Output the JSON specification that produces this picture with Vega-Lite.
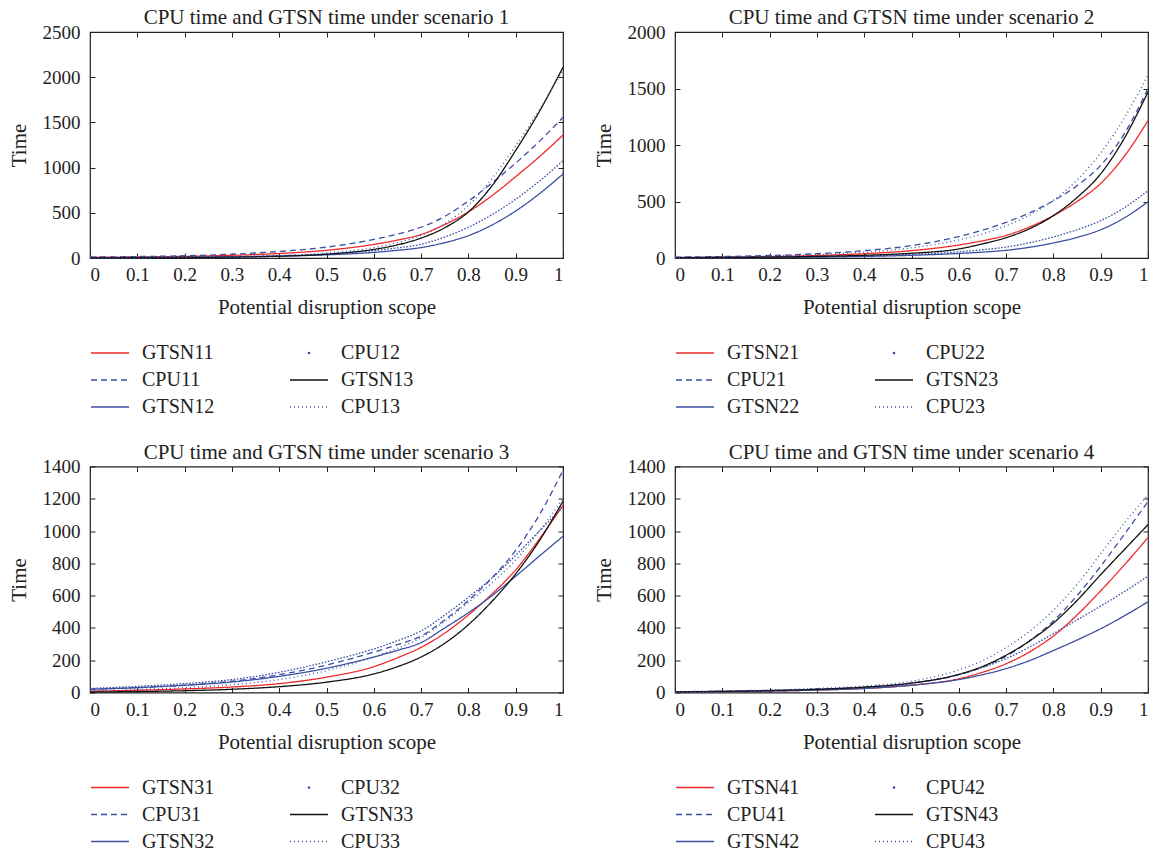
{
"$schema": "https://vega.github.io/schema/vega-lite/v6.json",
"background": "white",
"padding": {"left": 7, "top": 6, "right": 0, "bottom": 0},
"config": {
 "font": "Liberation Serif",
 "view": {"stroke": "#222", "strokeWidth": 1.2},
 "axis": {"labelFont": "Liberation Serif", "labelFontSize": 19, "titleFont": "Liberation Serif", "titleFontSize": 21, "titleFontWeight": "normal", "labelColor": "#222", "titleColor": "#222", "tickColor": "#222", "domain": false, "grid": false, "tickSize": -5},
 "axisBottom": {"labelPadding": 12.5, "titlePadding": 12},
 "axisLeft": {"labelPadding": 15, "titlePadding": 13},
 "axisTop": {"labelPadding": 0},
 "axisRight": {"labelPadding": 0},
 "title": {"font": "Liberation Serif", "fontSize": 21, "fontWeight": "normal", "color": "#222", "offset": -5},
 "legend": {"orient": "bottom", "columns": 2, "padding": 10, "labelFont": "Liberation Serif", "labelFontSize": 20, "labelColor": "#222", "symbolType": "stroke", "symbolSize": 1444, "symbolStrokeWidth": 1.3, "labelOffset": 22, "columnPadding": 72, "rowPadding": 7, "offset": 15}
},
"datasets": {"d": [
{"p":1,"s":"GTSN11","x":0,"y":8},{"p":1,"s":"GTSN11","x":0.1,"y":12},{"p":1,"s":"GTSN11","x":0.2,"y":18},{"p":1,"s":"GTSN11","x":0.3,"y":30},{"p":1,"s":"GTSN11","x":0.4,"y":50},{"p":1,"s":"GTSN11","x":0.5,"y":85},{"p":1,"s":"GTSN11","x":0.6,"y":150},{"p":1,"s":"GTSN11","x":0.65,"y":198},{"p":1,"s":"GTSN11","x":0.7,"y":260},{"p":1,"s":"GTSN11","x":0.75,"y":370},{"p":1,"s":"GTSN11","x":0.8,"y":510},{"p":1,"s":"GTSN11","x":0.85,"y":690},{"p":1,"s":"GTSN11","x":0.9,"y":900},{"p":1,"s":"GTSN11","x":0.95,"y":1120},{"p":1,"s":"GTSN11","x":1,"y":1360},
{"p":1,"s":"CPU11","x":0,"y":10},{"p":1,"s":"CPU11","x":0.1,"y":16},{"p":1,"s":"CPU11","x":0.2,"y":25},{"p":1,"s":"CPU11","x":0.3,"y":42},{"p":1,"s":"CPU11","x":0.4,"y":72},{"p":1,"s":"CPU11","x":0.5,"y":120},{"p":1,"s":"CPU11","x":0.6,"y":205},{"p":1,"s":"CPU11","x":0.65,"y":265},{"p":1,"s":"CPU11","x":0.7,"y":340},{"p":1,"s":"CPU11","x":0.75,"y":460},{"p":1,"s":"CPU11","x":0.8,"y":630},{"p":1,"s":"CPU11","x":0.85,"y":830},{"p":1,"s":"CPU11","x":0.9,"y":1050},{"p":1,"s":"CPU11","x":0.95,"y":1290},{"p":1,"s":"CPU11","x":1,"y":1556},
{"p":1,"s":"GTSN12","x":0,"y":3},{"p":1,"s":"GTSN12","x":0.1,"y":5},{"p":1,"s":"GTSN12","x":0.2,"y":8},{"p":1,"s":"GTSN12","x":0.3,"y":12},{"p":1,"s":"GTSN12","x":0.4,"y":20},{"p":1,"s":"GTSN12","x":0.5,"y":35},{"p":1,"s":"GTSN12","x":0.6,"y":62},{"p":1,"s":"GTSN12","x":0.65,"y":85},{"p":1,"s":"GTSN12","x":0.7,"y":115},{"p":1,"s":"GTSN12","x":0.75,"y":170},{"p":1,"s":"GTSN12","x":0.8,"y":247},{"p":1,"s":"GTSN12","x":0.85,"y":365},{"p":1,"s":"GTSN12","x":0.9,"y":520},{"p":1,"s":"GTSN12","x":0.95,"y":710},{"p":1,"s":"GTSN12","x":1,"y":929},
{"p":1,"s":"CPU12","x":0,"y":4},{"p":1,"s":"CPU12","x":0.1,"y":6},{"p":1,"s":"CPU12","x":0.2,"y":10},{"p":1,"s":"CPU12","x":0.3,"y":16},{"p":1,"s":"CPU12","x":0.4,"y":26},{"p":1,"s":"CPU12","x":0.5,"y":45},{"p":1,"s":"CPU12","x":0.6,"y":82},{"p":1,"s":"CPU12","x":0.65,"y":112},{"p":1,"s":"CPU12","x":0.7,"y":152},{"p":1,"s":"CPU12","x":0.75,"y":232},{"p":1,"s":"CPU12","x":0.8,"y":340},{"p":1,"s":"CPU12","x":0.85,"y":480},{"p":1,"s":"CPU12","x":0.9,"y":650},{"p":1,"s":"CPU12","x":0.95,"y":850},{"p":1,"s":"CPU12","x":1,"y":1076},
{"p":1,"s":"GTSN13","x":0,"y":2},{"p":1,"s":"GTSN13","x":0.1,"y":3},{"p":1,"s":"GTSN13","x":0.2,"y":6},{"p":1,"s":"GTSN13","x":0.3,"y":10},{"p":1,"s":"GTSN13","x":0.4,"y":20},{"p":1,"s":"GTSN13","x":0.5,"y":42},{"p":1,"s":"GTSN13","x":0.6,"y":95},{"p":1,"s":"GTSN13","x":0.65,"y":145},{"p":1,"s":"GTSN13","x":0.7,"y":220},{"p":1,"s":"GTSN13","x":0.75,"y":335},{"p":1,"s":"GTSN13","x":0.8,"y":510},{"p":1,"s":"GTSN13","x":0.85,"y":800},{"p":1,"s":"GTSN13","x":0.9,"y":1190},{"p":1,"s":"GTSN13","x":0.95,"y":1620},{"p":1,"s":"GTSN13","x":1,"y":2110},
{"p":1,"s":"CPU13","x":0,"y":3},{"p":1,"s":"CPU13","x":0.1,"y":5},{"p":1,"s":"CPU13","x":0.2,"y":8},{"p":1,"s":"CPU13","x":0.3,"y":14},{"p":1,"s":"CPU13","x":0.4,"y":27},{"p":1,"s":"CPU13","x":0.5,"y":55},{"p":1,"s":"CPU13","x":0.6,"y":115},{"p":1,"s":"CPU13","x":0.65,"y":170},{"p":1,"s":"CPU13","x":0.7,"y":250},{"p":1,"s":"CPU13","x":0.75,"y":380},{"p":1,"s":"CPU13","x":0.8,"y":580},{"p":1,"s":"CPU13","x":0.85,"y":880},{"p":1,"s":"CPU13","x":0.9,"y":1240},{"p":1,"s":"CPU13","x":0.95,"y":1640},{"p":1,"s":"CPU13","x":1,"y":2080},
{"p":2,"s":"GTSN21","x":0,"y":5},{"p":2,"s":"GTSN21","x":0.1,"y":8},{"p":2,"s":"GTSN21","x":0.2,"y":13},{"p":2,"s":"GTSN21","x":0.3,"y":22},{"p":2,"s":"GTSN21","x":0.4,"y":38},{"p":2,"s":"GTSN21","x":0.5,"y":65},{"p":2,"s":"GTSN21","x":0.6,"y":115},{"p":2,"s":"GTSN21","x":0.65,"y":152},{"p":2,"s":"GTSN21","x":0.7,"y":200},{"p":2,"s":"GTSN21","x":0.75,"y":275},{"p":2,"s":"GTSN21","x":0.8,"y":375},{"p":2,"s":"GTSN21","x":0.85,"y":500},{"p":2,"s":"GTSN21","x":0.9,"y":660},{"p":2,"s":"GTSN21","x":0.95,"y":900},{"p":2,"s":"GTSN21","x":1,"y":1215},
{"p":2,"s":"CPU21","x":0,"y":8},{"p":2,"s":"CPU21","x":0.1,"y":13},{"p":2,"s":"CPU21","x":0.2,"y":22},{"p":2,"s":"CPU21","x":0.3,"y":38},{"p":2,"s":"CPU21","x":0.4,"y":65},{"p":2,"s":"CPU21","x":0.5,"y":110},{"p":2,"s":"CPU21","x":0.6,"y":190},{"p":2,"s":"CPU21","x":0.65,"y":246},{"p":2,"s":"CPU21","x":0.7,"y":316},{"p":2,"s":"CPU21","x":0.75,"y":400},{"p":2,"s":"CPU21","x":0.8,"y":507},{"p":2,"s":"CPU21","x":0.85,"y":640},{"p":2,"s":"CPU21","x":0.9,"y":820},{"p":2,"s":"CPU21","x":0.95,"y":1100},{"p":2,"s":"CPU21","x":1,"y":1500},
{"p":2,"s":"GTSN22","x":0,"y":2},{"p":2,"s":"GTSN22","x":0.1,"y":3},{"p":2,"s":"GTSN22","x":0.2,"y":5},{"p":2,"s":"GTSN22","x":0.3,"y":8},{"p":2,"s":"GTSN22","x":0.4,"y":14},{"p":2,"s":"GTSN22","x":0.5,"y":24},{"p":2,"s":"GTSN22","x":0.6,"y":40},{"p":2,"s":"GTSN22","x":0.65,"y":52},{"p":2,"s":"GTSN22","x":0.7,"y":68},{"p":2,"s":"GTSN22","x":0.75,"y":95},{"p":2,"s":"GTSN22","x":0.8,"y":133},{"p":2,"s":"GTSN22","x":0.85,"y":182},{"p":2,"s":"GTSN22","x":0.9,"y":250},{"p":2,"s":"GTSN22","x":0.95,"y":355},{"p":2,"s":"GTSN22","x":1,"y":498},
{"p":2,"s":"CPU22","x":0,"y":3},{"p":2,"s":"CPU22","x":0.1,"y":4},{"p":2,"s":"CPU22","x":0.2,"y":7},{"p":2,"s":"CPU22","x":0.3,"y":11},{"p":2,"s":"CPU22","x":0.4,"y":19},{"p":2,"s":"CPU22","x":0.5,"y":32},{"p":2,"s":"CPU22","x":0.6,"y":55},{"p":2,"s":"CPU22","x":0.65,"y":73},{"p":2,"s":"CPU22","x":0.7,"y":97},{"p":2,"s":"CPU22","x":0.75,"y":135},{"p":2,"s":"CPU22","x":0.8,"y":186},{"p":2,"s":"CPU22","x":0.85,"y":250},{"p":2,"s":"CPU22","x":0.9,"y":330},{"p":2,"s":"CPU22","x":0.95,"y":445},{"p":2,"s":"CPU22","x":1,"y":596},
{"p":2,"s":"GTSN23","x":0,"y":3},{"p":2,"s":"GTSN23","x":0.1,"y":5},{"p":2,"s":"GTSN23","x":0.2,"y":8},{"p":2,"s":"GTSN23","x":0.3,"y":14},{"p":2,"s":"GTSN23","x":0.4,"y":24},{"p":2,"s":"GTSN23","x":0.5,"y":42},{"p":2,"s":"GTSN23","x":0.6,"y":80},{"p":2,"s":"GTSN23","x":0.65,"y":125},{"p":2,"s":"GTSN23","x":0.7,"y":180},{"p":2,"s":"GTSN23","x":0.75,"y":260},{"p":2,"s":"GTSN23","x":0.8,"y":375},{"p":2,"s":"GTSN23","x":0.85,"y":535},{"p":2,"s":"GTSN23","x":0.9,"y":745},{"p":2,"s":"GTSN23","x":0.95,"y":1060},{"p":2,"s":"GTSN23","x":1,"y":1470},
{"p":2,"s":"CPU23","x":0,"y":6},{"p":2,"s":"CPU23","x":0.1,"y":10},{"p":2,"s":"CPU23","x":0.2,"y":17},{"p":2,"s":"CPU23","x":0.3,"y":30},{"p":2,"s":"CPU23","x":0.4,"y":52},{"p":2,"s":"CPU23","x":0.5,"y":90},{"p":2,"s":"CPU23","x":0.6,"y":160},{"p":2,"s":"CPU23","x":0.65,"y":214},{"p":2,"s":"CPU23","x":0.7,"y":285},{"p":2,"s":"CPU23","x":0.75,"y":380},{"p":2,"s":"CPU23","x":0.8,"y":510},{"p":2,"s":"CPU23","x":0.85,"y":690},{"p":2,"s":"CPU23","x":0.9,"y":930},{"p":2,"s":"CPU23","x":0.95,"y":1240},{"p":2,"s":"CPU23","x":1,"y":1620},
{"p":3,"s":"GTSN31","x":0,"y":8},{"p":3,"s":"GTSN31","x":0.1,"y":14},{"p":3,"s":"GTSN31","x":0.2,"y":22},{"p":3,"s":"GTSN31","x":0.3,"y":34},{"p":3,"s":"GTSN31","x":0.4,"y":55},{"p":3,"s":"GTSN31","x":0.5,"y":95},{"p":3,"s":"GTSN31","x":0.6,"y":160},{"p":3,"s":"GTSN31","x":0.65,"y":215},{"p":3,"s":"GTSN31","x":0.7,"y":280},{"p":3,"s":"GTSN31","x":0.75,"y":368},{"p":3,"s":"GTSN31","x":0.8,"y":480},{"p":3,"s":"GTSN31","x":0.85,"y":610},{"p":3,"s":"GTSN31","x":0.9,"y":760},{"p":3,"s":"GTSN31","x":0.95,"y":950},{"p":3,"s":"GTSN31","x":1,"y":1160},
{"p":3,"s":"CPU31","x":0,"y":20},{"p":3,"s":"CPU31","x":0.1,"y":30},{"p":3,"s":"CPU31","x":0.2,"y":45},{"p":3,"s":"CPU31","x":0.3,"y":70},{"p":3,"s":"CPU31","x":0.4,"y":110},{"p":3,"s":"CPU31","x":0.5,"y":170},{"p":3,"s":"CPU31","x":0.6,"y":250},{"p":3,"s":"CPU31","x":0.65,"y":296},{"p":3,"s":"CPU31","x":0.7,"y":350},{"p":3,"s":"CPU31","x":0.75,"y":450},{"p":3,"s":"CPU31","x":0.8,"y":570},{"p":3,"s":"CPU31","x":0.85,"y":710},{"p":3,"s":"CPU31","x":0.9,"y":880},{"p":3,"s":"CPU31","x":0.95,"y":1100},{"p":3,"s":"CPU31","x":1,"y":1376},
{"p":3,"s":"GTSN32","x":0,"y":20},{"p":3,"s":"GTSN32","x":0.1,"y":30},{"p":3,"s":"GTSN32","x":0.2,"y":45},{"p":3,"s":"GTSN32","x":0.3,"y":65},{"p":3,"s":"GTSN32","x":0.4,"y":100},{"p":3,"s":"GTSN32","x":0.5,"y":150},{"p":3,"s":"GTSN32","x":0.6,"y":220},{"p":3,"s":"GTSN32","x":0.65,"y":261},{"p":3,"s":"GTSN32","x":0.7,"y":309},{"p":3,"s":"GTSN32","x":0.75,"y":400},{"p":3,"s":"GTSN32","x":0.8,"y":494},{"p":3,"s":"GTSN32","x":0.85,"y":600},{"p":3,"s":"GTSN32","x":0.9,"y":720},{"p":3,"s":"GTSN32","x":0.95,"y":845},{"p":3,"s":"GTSN32","x":1,"y":968},
{"p":3,"s":"CPU32","x":0,"y":25},{"p":3,"s":"CPU32","x":0.1,"y":38},{"p":3,"s":"CPU32","x":0.2,"y":55},{"p":3,"s":"CPU32","x":0.3,"y":80},{"p":3,"s":"CPU32","x":0.4,"y":125},{"p":3,"s":"CPU32","x":0.5,"y":190},{"p":3,"s":"CPU32","x":0.6,"y":270},{"p":3,"s":"CPU32","x":0.65,"y":321},{"p":3,"s":"CPU32","x":0.7,"y":381},{"p":3,"s":"CPU32","x":0.75,"y":480},{"p":3,"s":"CPU32","x":0.8,"y":590},{"p":3,"s":"CPU32","x":0.85,"y":710},{"p":3,"s":"CPU32","x":0.9,"y":850},{"p":3,"s":"CPU32","x":0.95,"y":1000},{"p":3,"s":"CPU32","x":1,"y":1150},
{"p":3,"s":"GTSN33","x":0,"y":3},{"p":3,"s":"GTSN33","x":0.1,"y":6},{"p":3,"s":"GTSN33","x":0.2,"y":11},{"p":3,"s":"GTSN33","x":0.3,"y":20},{"p":3,"s":"GTSN33","x":0.4,"y":36},{"p":3,"s":"GTSN33","x":0.5,"y":64},{"p":3,"s":"GTSN33","x":0.6,"y":115},{"p":3,"s":"GTSN33","x":0.65,"y":160},{"p":3,"s":"GTSN33","x":0.7,"y":220},{"p":3,"s":"GTSN33","x":0.75,"y":305},{"p":3,"s":"GTSN33","x":0.8,"y":420},{"p":3,"s":"GTSN33","x":0.85,"y":565},{"p":3,"s":"GTSN33","x":0.9,"y":735},{"p":3,"s":"GTSN33","x":0.95,"y":940},{"p":3,"s":"GTSN33","x":1,"y":1185},
{"p":3,"s":"CPU33","x":0,"y":10},{"p":3,"s":"CPU33","x":0.1,"y":18},{"p":3,"s":"CPU33","x":0.2,"y":30},{"p":3,"s":"CPU33","x":0.3,"y":48},{"p":3,"s":"CPU33","x":0.4,"y":80},{"p":3,"s":"CPU33","x":0.5,"y":135},{"p":3,"s":"CPU33","x":0.6,"y":220},{"p":3,"s":"CPU33","x":0.65,"y":274},{"p":3,"s":"CPU33","x":0.7,"y":340},{"p":3,"s":"CPU33","x":0.75,"y":440},{"p":3,"s":"CPU33","x":0.8,"y":558},{"p":3,"s":"CPU33","x":0.85,"y":680},{"p":3,"s":"CPU33","x":0.9,"y":820},{"p":3,"s":"CPU33","x":0.95,"y":1000},{"p":3,"s":"CPU33","x":1,"y":1200},
{"p":4,"s":"GTSN41","x":0,"y":3},{"p":4,"s":"GTSN41","x":0.1,"y":5},{"p":4,"s":"GTSN41","x":0.2,"y":9},{"p":4,"s":"GTSN41","x":0.3,"y":15},{"p":4,"s":"GTSN41","x":0.4,"y":25},{"p":4,"s":"GTSN41","x":0.5,"y":45},{"p":4,"s":"GTSN41","x":0.6,"y":85},{"p":4,"s":"GTSN41","x":0.65,"y":125},{"p":4,"s":"GTSN41","x":0.7,"y":178},{"p":4,"s":"GTSN41","x":0.75,"y":252},{"p":4,"s":"GTSN41","x":0.8,"y":350},{"p":4,"s":"GTSN41","x":0.85,"y":480},{"p":4,"s":"GTSN41","x":0.9,"y":630},{"p":4,"s":"GTSN41","x":0.95,"y":790},{"p":4,"s":"GTSN41","x":1,"y":960},
{"p":4,"s":"CPU41","x":0,"y":4},{"p":4,"s":"CPU41","x":0.1,"y":7},{"p":4,"s":"CPU41","x":0.2,"y":12},{"p":4,"s":"CPU41","x":0.3,"y":20},{"p":4,"s":"CPU41","x":0.4,"y":33},{"p":4,"s":"CPU41","x":0.5,"y":58},{"p":4,"s":"CPU41","x":0.6,"y":110},{"p":4,"s":"CPU41","x":0.65,"y":157},{"p":4,"s":"CPU41","x":0.7,"y":225},{"p":4,"s":"CPU41","x":0.75,"y":320},{"p":4,"s":"CPU41","x":0.8,"y":443},{"p":4,"s":"CPU41","x":0.85,"y":600},{"p":4,"s":"CPU41","x":0.9,"y":782},{"p":4,"s":"CPU41","x":0.95,"y":980},{"p":4,"s":"CPU41","x":1,"y":1183},
{"p":4,"s":"GTSN42","x":0,"y":3},{"p":4,"s":"GTSN42","x":0.1,"y":5},{"p":4,"s":"GTSN42","x":0.2,"y":9},{"p":4,"s":"GTSN42","x":0.3,"y":15},{"p":4,"s":"GTSN42","x":0.4,"y":25},{"p":4,"s":"GTSN42","x":0.5,"y":45},{"p":4,"s":"GTSN42","x":0.6,"y":80},{"p":4,"s":"GTSN42","x":0.65,"y":110},{"p":4,"s":"GTSN42","x":0.7,"y":148},{"p":4,"s":"GTSN42","x":0.75,"y":198},{"p":4,"s":"GTSN42","x":0.8,"y":260},{"p":4,"s":"GTSN42","x":0.85,"y":325},{"p":4,"s":"GTSN42","x":0.9,"y":395},{"p":4,"s":"GTSN42","x":0.95,"y":475},{"p":4,"s":"GTSN42","x":1,"y":562},
{"p":4,"s":"CPU42","x":0,"y":5},{"p":4,"s":"CPU42","x":0.1,"y":8},{"p":4,"s":"CPU42","x":0.2,"y":13},{"p":4,"s":"CPU42","x":0.3,"y":20},{"p":4,"s":"CPU42","x":0.4,"y":32},{"p":4,"s":"CPU42","x":0.5,"y":58},{"p":4,"s":"CPU42","x":0.6,"y":112},{"p":4,"s":"CPU42","x":0.65,"y":155},{"p":4,"s":"CPU42","x":0.7,"y":210},{"p":4,"s":"CPU42","x":0.75,"y":282},{"p":4,"s":"CPU42","x":0.8,"y":365},{"p":4,"s":"CPU42","x":0.85,"y":450},{"p":4,"s":"CPU42","x":0.9,"y":535},{"p":4,"s":"CPU42","x":0.95,"y":625},{"p":4,"s":"CPU42","x":1,"y":720},
{"p":4,"s":"GTSN43","x":0,"y":4},{"p":4,"s":"GTSN43","x":0.1,"y":7},{"p":4,"s":"GTSN43","x":0.2,"y":12},{"p":4,"s":"GTSN43","x":0.3,"y":20},{"p":4,"s":"GTSN43","x":0.4,"y":33},{"p":4,"s":"GTSN43","x":0.5,"y":58},{"p":4,"s":"GTSN43","x":0.6,"y":112},{"p":4,"s":"GTSN43","x":0.65,"y":161},{"p":4,"s":"GTSN43","x":0.7,"y":231},{"p":4,"s":"GTSN43","x":0.75,"y":320},{"p":4,"s":"GTSN43","x":0.8,"y":430},{"p":4,"s":"GTSN43","x":0.85,"y":570},{"p":4,"s":"GTSN43","x":0.9,"y":730},{"p":4,"s":"GTSN43","x":0.95,"y":885},{"p":4,"s":"GTSN43","x":1,"y":1040},
{"p":4,"s":"CPU43","x":0,"y":5},{"p":4,"s":"CPU43","x":0.1,"y":9},{"p":4,"s":"CPU43","x":0.2,"y":15},{"p":4,"s":"CPU43","x":0.3,"y":25},{"p":4,"s":"CPU43","x":0.4,"y":40},{"p":4,"s":"CPU43","x":0.5,"y":70},{"p":4,"s":"CPU43","x":0.6,"y":140},{"p":4,"s":"CPU43","x":0.65,"y":197},{"p":4,"s":"CPU43","x":0.7,"y":278},{"p":4,"s":"CPU43","x":0.75,"y":380},{"p":4,"s":"CPU43","x":0.8,"y":510},{"p":4,"s":"CPU43","x":0.85,"y":670},{"p":4,"s":"CPU43","x":0.9,"y":860},{"p":4,"s":"CPU43","x":0.95,"y":1050},{"p":4,"s":"CPU43","x":1,"y":1225}
]},
"resolve": {"scale": {"color": "independent", "strokeDash": "independent", "x": "independent", "y": "independent"}, "legend": {"color": "independent", "strokeDash": "independent"}},
"spacing": 12.5,
"vconcat": [
 {"hconcat": [
  {"width": 473, "height": 226, "title": "CPU time and GTSN time under scenario 1", "data": {"name": "d"}, "transform": [{"filter": "datum.p == 1"}],
   "resolve": {"axis": {"x": "independent", "y": "independent"}},
   "layer": [
    {"mark": {"type": "line", "interpolate": "monotone", "strokeWidth": 1.3},
     "encoding": {
      "x": {"field": "x", "type": "quantitative", "title": "Potential disruption scope", "scale": {"domain": [0, 1], "nice": false}, "axis": {"orient": "bottom", "values": [0,0.1,0.2,0.3,0.4,0.5,0.6,0.7,0.8,0.9,1], "format": "~g"}},
      "y": {"field": "y", "type": "quantitative", "title": "Time", "scale": {"domain": [0, 2500], "nice": false}, "axis": {"orient": "left", "values": [0,500,1000,1500,2000,2500], "format": "d"}},
      "color": {"field": "s", "type": "nominal", "legend": {"title": null, "encode": {"symbols": {"update": {"shape": {"signal": "test(regexp('^CPU.2$'), datum.value) ? 'M-0.07,0a0.07,0.07 0 1,0 0.14,0a0.07,0.07 0 1,0 -0.14,0Z' : 'stroke'"}, "fill": {"signal": "test(regexp('^CPU.2$'), datum.value) ? '#3b50a3' : 'transparent'"}, "strokeWidth": {"signal": "test(regexp('^CPU.2$'), datum.value) ? 0 : 1.3"}}}}}, "scale": {"domain": ["GTSN11","CPU12","CPU11","GTSN13","GTSN12","CPU13"], "range": ["#f02828","#3b50a3","#3b50a3","#111111","#3b50a3","#3b50a3"]}},
      "strokeDash": {"field": "s", "type": "nominal", "legend": {"title": null, "encode": {"symbols": {"update": {"shape": {"signal": "test(regexp('^CPU.2$'), datum.value) ? 'M-0.07,0a0.07,0.07 0 1,0 0.14,0a0.07,0.07 0 1,0 -0.14,0Z' : 'stroke'"}, "fill": {"signal": "test(regexp('^CPU.2$'), datum.value) ? '#3b50a3' : 'transparent'"}, "strokeWidth": {"signal": "test(regexp('^CPU.2$'), datum.value) ? 0 : 1.3"}}}}}, "scale": {"domain": ["GTSN11","CPU12","CPU11","GTSN13","GTSN12","CPU13"], "range": [[1,0],[1.6,1.6],[6,4],[1,0],[1,0],[1,3]]}},
      "strokeWidth": {"condition": {"test": "test(regexp('^CPU.2$'), datum.s)", "value": 2.4}, "value": 1.3}
     }},
    {"mark": {"type": "line", "opacity": 0},
     "encoding": {
      "x": {"field": "x", "type": "quantitative", "axis": {"orient": "top", "labels": false, "title": null, "values": [0,0.1,0.2,0.3,0.4,0.5,0.6,0.7,0.8,0.9,1]}},
      "y": {"field": "y", "type": "quantitative", "axis": {"orient": "right", "labels": false, "title": null, "values": [0,500,1000,1500,2000,2500]}},
      "detail": {"field": "s"}
     }}
   ]},
  {"width": 473, "height": 226, "title": "CPU time and GTSN time under scenario 2", "data": {"name": "d"}, "transform": [{"filter": "datum.p == 2"}],
   "resolve": {"axis": {"x": "independent", "y": "independent"}},
   "layer": [
    {"mark": {"type": "line", "interpolate": "monotone", "strokeWidth": 1.3},
     "encoding": {
      "x": {"field": "x", "type": "quantitative", "title": "Potential disruption scope", "scale": {"domain": [0, 1], "nice": false}, "axis": {"orient": "bottom", "values": [0,0.1,0.2,0.3,0.4,0.5,0.6,0.7,0.8,0.9,1], "format": "~g"}},
      "y": {"field": "y", "type": "quantitative", "title": "Time", "scale": {"domain": [0, 2000], "nice": false}, "axis": {"orient": "left", "values": [0,500,1000,1500,2000], "format": "d"}},
      "color": {"field": "s", "type": "nominal", "legend": {"title": null, "encode": {"symbols": {"update": {"shape": {"signal": "test(regexp('^CPU.2$'), datum.value) ? 'M-0.07,0a0.07,0.07 0 1,0 0.14,0a0.07,0.07 0 1,0 -0.14,0Z' : 'stroke'"}, "fill": {"signal": "test(regexp('^CPU.2$'), datum.value) ? '#3b50a3' : 'transparent'"}, "strokeWidth": {"signal": "test(regexp('^CPU.2$'), datum.value) ? 0 : 1.3"}}}}}, "scale": {"domain": ["GTSN21","CPU22","CPU21","GTSN23","GTSN22","CPU23"], "range": ["#f02828","#3b50a3","#3b50a3","#111111","#3b50a3","#3b50a3"]}},
      "strokeDash": {"field": "s", "type": "nominal", "legend": {"title": null, "encode": {"symbols": {"update": {"shape": {"signal": "test(regexp('^CPU.2$'), datum.value) ? 'M-0.07,0a0.07,0.07 0 1,0 0.14,0a0.07,0.07 0 1,0 -0.14,0Z' : 'stroke'"}, "fill": {"signal": "test(regexp('^CPU.2$'), datum.value) ? '#3b50a3' : 'transparent'"}, "strokeWidth": {"signal": "test(regexp('^CPU.2$'), datum.value) ? 0 : 1.3"}}}}}, "scale": {"domain": ["GTSN21","CPU22","CPU21","GTSN23","GTSN22","CPU23"], "range": [[1,0],[1.6,1.6],[6,4],[1,0],[1,0],[1,3]]}},
      "strokeWidth": {"condition": {"test": "test(regexp('^CPU.2$'), datum.s)", "value": 2.4}, "value": 1.3}
     }},
    {"mark": {"type": "line", "opacity": 0},
     "encoding": {
      "x": {"field": "x", "type": "quantitative", "axis": {"orient": "top", "labels": false, "title": null, "values": [0,0.1,0.2,0.3,0.4,0.5,0.6,0.7,0.8,0.9,1]}},
      "y": {"field": "y", "type": "quantitative", "axis": {"orient": "right", "labels": false, "title": null, "values": [0,500,1000,1500,2000]}},
      "detail": {"field": "s"}
     }}
   ]}
 ], "spacing": 25, "resolve": {"scale": {"color": "independent", "strokeDash": "independent", "x": "independent", "y": "independent"}, "legend": {"color": "independent", "strokeDash": "independent"}}},
 {"hconcat": [
  {"width": 473, "height": 226, "title": "CPU time and GTSN time under scenario 3", "data": {"name": "d"}, "transform": [{"filter": "datum.p == 3"}],
   "resolve": {"axis": {"x": "independent", "y": "independent"}},
   "layer": [
    {"mark": {"type": "line", "interpolate": "monotone", "strokeWidth": 1.3},
     "encoding": {
      "x": {"field": "x", "type": "quantitative", "title": "Potential disruption scope", "scale": {"domain": [0, 1], "nice": false}, "axis": {"orient": "bottom", "values": [0,0.1,0.2,0.3,0.4,0.5,0.6,0.7,0.8,0.9,1], "format": "~g"}},
      "y": {"field": "y", "type": "quantitative", "title": "Time", "scale": {"domain": [0, 1400], "nice": false}, "axis": {"orient": "left", "values": [0,200,400,600,800,1000,1200,1400], "format": "d"}},
      "color": {"field": "s", "type": "nominal", "legend": {"title": null, "encode": {"symbols": {"update": {"shape": {"signal": "test(regexp('^CPU.2$'), datum.value) ? 'M-0.07,0a0.07,0.07 0 1,0 0.14,0a0.07,0.07 0 1,0 -0.14,0Z' : 'stroke'"}, "fill": {"signal": "test(regexp('^CPU.2$'), datum.value) ? '#3b50a3' : 'transparent'"}, "strokeWidth": {"signal": "test(regexp('^CPU.2$'), datum.value) ? 0 : 1.3"}}}}}, "scale": {"domain": ["GTSN31","CPU32","CPU31","GTSN33","GTSN32","CPU33"], "range": ["#f02828","#3b50a3","#3b50a3","#111111","#3b50a3","#3b50a3"]}},
      "strokeDash": {"field": "s", "type": "nominal", "legend": {"title": null, "encode": {"symbols": {"update": {"shape": {"signal": "test(regexp('^CPU.2$'), datum.value) ? 'M-0.07,0a0.07,0.07 0 1,0 0.14,0a0.07,0.07 0 1,0 -0.14,0Z' : 'stroke'"}, "fill": {"signal": "test(regexp('^CPU.2$'), datum.value) ? '#3b50a3' : 'transparent'"}, "strokeWidth": {"signal": "test(regexp('^CPU.2$'), datum.value) ? 0 : 1.3"}}}}}, "scale": {"domain": ["GTSN31","CPU32","CPU31","GTSN33","GTSN32","CPU33"], "range": [[1,0],[1.6,1.6],[6,4],[1,0],[1,0],[1,3]]}},
      "strokeWidth": {"condition": {"test": "test(regexp('^CPU.2$'), datum.s)", "value": 2.4}, "value": 1.3}
     }},
    {"mark": {"type": "line", "opacity": 0},
     "encoding": {
      "x": {"field": "x", "type": "quantitative", "axis": {"orient": "top", "labels": false, "title": null, "values": [0,0.1,0.2,0.3,0.4,0.5,0.6,0.7,0.8,0.9,1]}},
      "y": {"field": "y", "type": "quantitative", "axis": {"orient": "right", "labels": false, "title": null, "values": [0,200,400,600,800,1000,1200,1400]}},
      "detail": {"field": "s"}
     }}
   ]},
  {"width": 473, "height": 226, "title": "CPU time and GTSN time under scenario 4", "data": {"name": "d"}, "transform": [{"filter": "datum.p == 4"}],
   "resolve": {"axis": {"x": "independent", "y": "independent"}},
   "layer": [
    {"mark": {"type": "line", "interpolate": "monotone", "strokeWidth": 1.3},
     "encoding": {
      "x": {"field": "x", "type": "quantitative", "title": "Potential disruption scope", "scale": {"domain": [0, 1], "nice": false}, "axis": {"orient": "bottom", "values": [0,0.1,0.2,0.3,0.4,0.5,0.6,0.7,0.8,0.9,1], "format": "~g"}},
      "y": {"field": "y", "type": "quantitative", "title": "Time", "scale": {"domain": [0, 1400], "nice": false}, "axis": {"orient": "left", "values": [0,200,400,600,800,1000,1200,1400], "format": "d"}},
      "color": {"field": "s", "type": "nominal", "legend": {"title": null, "encode": {"symbols": {"update": {"shape": {"signal": "test(regexp('^CPU.2$'), datum.value) ? 'M-0.07,0a0.07,0.07 0 1,0 0.14,0a0.07,0.07 0 1,0 -0.14,0Z' : 'stroke'"}, "fill": {"signal": "test(regexp('^CPU.2$'), datum.value) ? '#3b50a3' : 'transparent'"}, "strokeWidth": {"signal": "test(regexp('^CPU.2$'), datum.value) ? 0 : 1.3"}}}}}, "scale": {"domain": ["GTSN41","CPU42","CPU41","GTSN43","GTSN42","CPU43"], "range": ["#f02828","#3b50a3","#3b50a3","#111111","#3b50a3","#3b50a3"]}},
      "strokeDash": {"field": "s", "type": "nominal", "legend": {"title": null, "encode": {"symbols": {"update": {"shape": {"signal": "test(regexp('^CPU.2$'), datum.value) ? 'M-0.07,0a0.07,0.07 0 1,0 0.14,0a0.07,0.07 0 1,0 -0.14,0Z' : 'stroke'"}, "fill": {"signal": "test(regexp('^CPU.2$'), datum.value) ? '#3b50a3' : 'transparent'"}, "strokeWidth": {"signal": "test(regexp('^CPU.2$'), datum.value) ? 0 : 1.3"}}}}}, "scale": {"domain": ["GTSN41","CPU42","CPU41","GTSN43","GTSN42","CPU43"], "range": [[1,0],[1.6,1.6],[6,4],[1,0],[1,0],[1,3]]}},
      "strokeWidth": {"condition": {"test": "test(regexp('^CPU.2$'), datum.s)", "value": 2.4}, "value": 1.3}
     }},
    {"mark": {"type": "line", "opacity": 0},
     "encoding": {
      "x": {"field": "x", "type": "quantitative", "axis": {"orient": "top", "labels": false, "title": null, "values": [0,0.1,0.2,0.3,0.4,0.5,0.6,0.7,0.8,0.9,1]}},
      "y": {"field": "y", "type": "quantitative", "axis": {"orient": "right", "labels": false, "title": null, "values": [0,200,400,600,800,1000,1200,1400]}},
      "detail": {"field": "s"}
     }}
   ]}
 ], "spacing": 25, "resolve": {"scale": {"color": "independent", "strokeDash": "independent", "x": "independent", "y": "independent"}, "legend": {"color": "independent", "strokeDash": "independent"}}}
]
}
